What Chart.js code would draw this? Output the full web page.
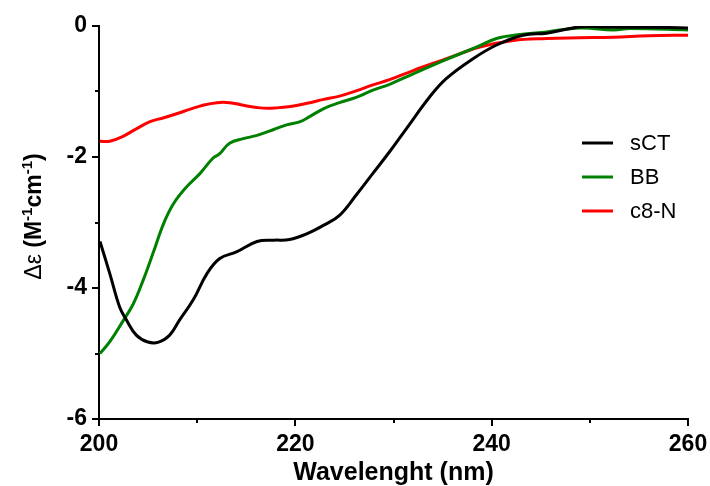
<!DOCTYPE html>
<html>
<head>
<meta charset="utf-8">
<title>CD spectra</title>
<script src="https://cdn.jsdelivr.net/npm/chart.js@4.4.1/dist/chart.umd.min.js"></script>
<style>
  html, body { margin: 0; padding: 0; background: #fff; }
  #cdChart { display: block; }
</style>
</head>
<body>
<canvas id="cdChart" width="710" height="486"></canvas>
<script>
// CD spectra, wavelength (nm) vs delta epsilon
const seriesNames = ["sCT", "BB", "c8-N"];
const seriesColors = ["#000000", "#008000", "#ff0000"];

const sctWavelength = [200.1, 201.1, 202.1, 202.8, 203.8, 204.9, 206.0, 207.2, 208.2, 209.6, 211.0, 212.3, 214.0, 216.1, 217.8, 219.4, 221.2, 222.9, 224.5, 226.2, 227.9, 229.6, 231.3, 233.7, 235.4, 238.1, 240.5, 243.2, 245.6, 247.6, 249.3, 252.4, 256.0, 260.0];
const sctValues = [-3.29, -3.78, -4.29, -4.49, -4.72, -4.82, -4.83, -4.72, -4.49, -4.18, -3.78, -3.55, -3.45, -3.29, -3.27, -3.26, -3.17, -3.04, -2.89, -2.58, -2.25, -1.92, -1.57, -1.08, -0.80, -0.50, -0.29, -0.14, -0.11, -0.05, -0.01, -0.02, -0.02, -0.03];

const bbWavelength = [200.1, 201.1, 202.5, 203.5, 204.5, 205.5, 206.6, 207.6, 208.9, 210.3, 211.6, 212.3, 213.3, 214.7, 216.1, 217.8, 219.1, 220.5, 221.5, 222.9, 224.5, 226.2, 227.9, 229.6, 232.0, 235.4, 238.5, 240.5, 242.9, 245.6, 249.0, 252.4, 254.1, 260.0];
const bbValues = [-5.00, -4.82, -4.49, -4.24, -3.88, -3.47, -3.01, -2.71, -2.46, -2.25, -2.02, -1.95, -1.79, -1.72, -1.67, -1.58, -1.51, -1.46, -1.38, -1.26, -1.17, -1.09, -0.98, -0.89, -0.73, -0.51, -0.32, -0.19, -0.13, -0.09, -0.03, -0.06, -0.04, -0.06];

const c8nWavelength = [200.1, 201.1, 202.5, 203.8, 205.2, 206.6, 207.9, 209.3, 210.6, 212.0, 213.3, 214.7, 216.4, 218.1, 219.5, 221.2, 222.9, 224.5, 226.2, 227.9, 229.6, 232.0, 235.4, 238.8, 242.2, 245.6, 249.0, 252.4, 256.0, 260.0];
const c8nValues = [-1.76, -1.76, -1.68, -1.57, -1.46, -1.40, -1.34, -1.27, -1.21, -1.17, -1.17, -1.21, -1.25, -1.25, -1.23, -1.18, -1.12, -1.07, -0.99, -0.90, -0.82, -0.68, -0.50, -0.32, -0.22, -0.19, -0.18, -0.17, -0.15, -0.14];

const xTicks = [200, 220, 240, 260];
const yTicks = [0, -2, -4, -6];

const toPoints = (xs, ys) => xs.map((x, i) => ({ x: x, y: ys[i] }));
const allSeries = [
  toPoints(sctWavelength, sctValues),
  toPoints(bbWavelength, bbValues),
  toPoints(c8nWavelength, c8nValues)
];

// major and minor tick marks, drawn outward from the axes
const tickMarks = {
  id: "tickMarks",
  afterDraw(chart) {
    const { ctx, chartArea, scales } = chart;
    ctx.save();
    ctx.strokeStyle = "#000";
    ctx.lineWidth = 2;
    ctx.beginPath();
    scales.x.ticks.forEach(t => {
      const px = Math.round(scales.x.getPixelForValue(t.value));
      const len = xTicks.includes(t.value) ? 7 : 4;
      ctx.moveTo(px, chartArea.bottom);
      ctx.lineTo(px, chartArea.bottom + len);
    });
    scales.y.ticks.forEach(t => {
      const py = Math.round(scales.y.getPixelForValue(t.value));
      const len = yTicks.includes(t.value) ? 7 : 4;
      ctx.moveTo(chartArea.left, py);
      ctx.lineTo(chartArea.left - len, py);
    });
    ctx.stroke();
    ctx.restore();
  }
};

// rotated y title with superscripts
const yTitle = {
  id: "yTitle",
  afterDraw(chart) {
    const ctx = chart.ctx;
    const mid = (chart.chartArea.top + chart.chartArea.bottom) / 2 - 6;
    const parts = [
      { t: "\u0394\u03b5", font: "23px 'Liberation Sans', Arial", dy: 0 },
      { t: " (M", font: "bold 23px 'Liberation Sans', Arial", dy: 0 },
      { t: "-1", font: "bold 15px 'Liberation Sans', Arial", dy: -9 },
      { t: "cm", font: "bold 23px 'Liberation Sans', Arial", dy: 0 },
      { t: "-1", font: "bold 15px 'Liberation Sans', Arial", dy: -9 },
      { t: ")", font: "bold 23px 'Liberation Sans', Arial", dy: 0 }
    ];
    ctx.save();
    let total = 0;
    parts.forEach(p => { ctx.font = p.font; p.w = ctx.measureText(p.t).width; total += p.w; });
    ctx.translate(41, mid);
    ctx.rotate(-Math.PI / 2);
    ctx.fillStyle = "#000";
    ctx.textBaseline = "alphabetic";
    let x = -total / 2;
    parts.forEach(p => {
      ctx.font = p.font;
      ctx.fillText(p.t, x, p.dy);
      x += p.w;
    });
    ctx.restore();
  }
};

// legend inside the plot, on the right
const sideLegend = {
  id: "sideLegend",
  afterDraw(chart) {
    const ctx = chart.ctx;
    ctx.save();
    ctx.font = "22px 'Liberation Sans', Arial";
    ctx.textBaseline = "middle";
    ctx.fillStyle = "#000";
    chart.data.datasets.forEach((ds, i) => {
      const y = 143 + i * 34;
      ctx.strokeStyle = ds.borderColor;
      ctx.lineWidth = 3;
      ctx.beginPath();
      ctx.moveTo(582, y);
      ctx.lineTo(613, y);
      ctx.stroke();
      ctx.fillText(ds.label, 630, y + 1);
    });
    ctx.restore();
  }
};

new Chart("cdChart", {
  type: "line",
  data: {
    datasets: allSeries.map((pts, i) => ({
      label: seriesNames[i],
      data: pts,
      borderColor: seriesColors[i],
      backgroundColor: seriesColors[i],
      borderWidth: 3,
      pointRadius: 0,
      tension: 0.4,
      fill: false
    }))
  },
  options: {
    responsive: false,
    animation: false,
    devicePixelRatio: 1,
    layout: { padding: { top: 26, right: 22, left: 0, bottom: 0 } },
    plugins: {
      legend: { display: false },
      tooltip: { enabled: false }
    },
    scales: {
      x: {
        type: "linear",
        min: 200,
        max: 260,
        afterFit: s => { s.height = 67; },
        // grid hidden; tickLength only reserves room for the hand-drawn marks
        grid: { display: false, drawTicks: true, tickLength: 10 },
        border: { display: true, color: "#000", width: 2 },
        ticks: {
          stepSize: 10,
          autoSkip: false,
          maxRotation: 0,
          padding: 2,
          color: "#000",
          font: { family: "'Liberation Sans', Arial", size: 23, weight: "bold" },
          callback: v => xTicks.includes(v) ? String(v) : ""
        },
        title: {
          display: true,
          text: "Wavelenght (nm)",
          color: "#000",
          padding: { top: 0, bottom: -2 },
          font: { family: "'Liberation Sans', Arial", size: 25, weight: "bold" }
        }
      },
      y: {
        min: -6,
        max: 0,
        afterFit: s => { s.width = 99; },
        grid: { display: false, drawTicks: true, tickLength: 10 },
        border: { display: true, color: "#000", width: 2 },
        ticks: {
          stepSize: 1,
          padding: 2,
          color: "#000",
          font: { family: "'Liberation Sans', Arial", size: 23, weight: "bold" },
          callback: v => yTicks.includes(v) ? String(v) : ""
        }
      }
    }
  },
  plugins: [tickMarks, yTitle, sideLegend]
});
</script>
</body>
</html>
